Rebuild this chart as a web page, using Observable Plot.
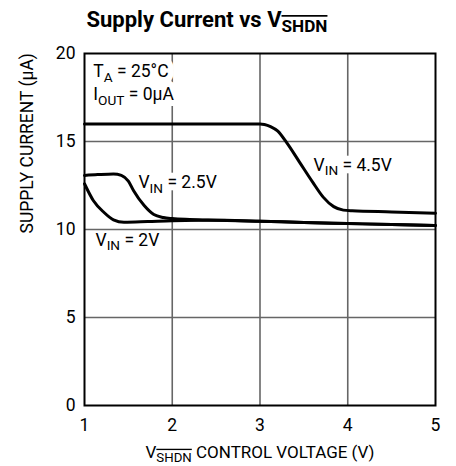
<!DOCTYPE html>
<html>
<head>
<meta charset="utf-8">
<script src="https://cdn.jsdelivr.net/npm/d3@7"></script>
<script src="https://cdn.jsdelivr.net/npm/@observablehq/plot@0.6"></script>
<style>
  html, body { margin: 0; padding: 0; background: white; }
  #chart { width: 456px; height: 466px; }
</style>
</head>
<body>
<div id="chart"></div>
<script>
// ---- data ----
const xTicks = [1, 2, 3, 4, 5];
const yTicks = [0, 5, 10, 15, 20];
const xGrid = [2, 3, 4];
const yGrid = [5, 10, 15];

const vin45X = [1, 2, 3, 3.05, 3.12, 3.2, 3.3, 3.45, 3.6, 3.72, 3.84, 3.95, 4.05, 4.5, 5];
const vin45Y = [16, 16, 16, 15.97, 15.85, 15.6, 14.96, 13.83, 12.69, 11.84, 11.3, 11.1, 11.06, 11.0, 10.93];

const vin25X = [1, 1.15, 1.33, 1.42, 1.5, 1.56, 1.68, 1.79, 1.9, 2.0, 2.2, 2.5, 3, 3.5, 4, 4.5, 5];
const vin25Y = [13.07, 13.12, 13.16, 13.08, 12.75, 12.2, 11.36, 10.85, 10.68, 10.62, 10.57, 10.53, 10.47, 10.4, 10.34, 10.28, 10.23];

const vin2X = [1, 1.1, 1.22, 1.33, 1.45, 1.72, 2.0, 2.3, 2.6, 3, 3.5, 4, 4.5, 5];
const vin2Y = [12.6, 11.65, 10.98, 10.55, 10.41, 10.45, 10.5, 10.52, 10.52, 10.47, 10.4, 10.34, 10.28, 10.23];

const titleText = "Supply Current vs V_{~SHDN}";
const xLabel = "V_{~SHDN} CONTROL VOLTAGE (V)";
const yLabel = "SUPPLY CURRENT (\u00B5A)";
const condLabels = ["T_{A} = 25\u00B0C", "I_{OUT} = 0\u00B5A"];
const seriesLabels = ["V_{IN} = 4.5V", "V_{IN} = 2.5V", "V_{IN} = 2V"];

// ---- chart ----
const FONT = "Roboto, 'Liberation Sans', sans-serif";
const GRID = "#666666";
const pts = (xs, ys) => xs.map((x, i) => [x, ys[i]]);
const txt = {fontSize: 17.5, textAnchor: "start", lineAnchor: "bottom"};
const haloOpt = {...txt, stroke: "white", strokeWidth: 12, fill: "white"};
const inkOpt = {...txt, fill: "black"};
const labelPos = [
  [condLabels[0], 1.10, 18.65],
  [condLabels[1], 1.10, 17.33],
  [seriesLabels[0], 3.61, 13.35],
  [seriesLabels[1], 1.615, 12.33],
  [seriesLabels[2], 1.125, 9.09]
];
const labelMarks = (opt) => labelPos.map(([t, x, y]) => Plot.text([t], {...opt, x: () => x, y: () => y}));

const chart = Plot.plot({
  width: 456,
  height: 466,
  marginTop: 53,
  marginBottom: 61,
  marginLeft: 84,
  marginRight: 21,
  style: {fontFamily: FONT, fontSize: "17px", background: "white", color: "black"},
  x: {domain: [1, 5]},
  y: {domain: [0, 20]},
  marks: [
    Plot.ruleX(xGrid, {stroke: GRID, strokeWidth: 1.6}),
    ...labelMarks(haloOpt),
    Plot.ruleY(yGrid, {stroke: GRID, strokeWidth: 1.6}),
    ...labelMarks(inkOpt),
    Plot.line(pts(vin45X, vin45Y), {stroke: "black", strokeWidth: 3, curve: "monotone-x"}),
    Plot.line(pts(vin25X, vin25Y), {stroke: "black", strokeWidth: 3, curve: "monotone-x"}),
    Plot.line(pts(vin2X, vin2Y), {stroke: "black", strokeWidth: 3, curve: "monotone-x"}),
    Plot.frame({stroke: "black", strokeWidth: 2}),
    Plot.axisX(xTicks, {tickSize: 0, tickPadding: 13, label: null, fontSize: 17.5}),
    Plot.axisY(yTicks, {tickSize: 0, tickPadding: 9, label: null, fontSize: 17.5}),
    Plot.text([xLabel], {frameAnchor: "bottom", dy: 52, lineAnchor: "bottom", fontSize: 17}),
    Plot.text([yLabel], {frameAnchor: "left", dx: -52, dy: 4, rotate: -90, lineAnchor: "bottom", fontSize: 17.5}),
    Plot.text([titleText], {frameAnchor: "top-left", dx: 2, dy: -27, lineAnchor: "bottom", textAnchor: "start", fontSize: 22, fontWeight: "bold"})
  ]
});

document.getElementById("chart").appendChild(chart);

// convert "_{...}" markup into subscript tspans ("~" = overline)
d3.select(chart).selectAll("text").each(function () {
  const t = this.textContent;
  if (!t.includes("_{")) return;
  const parts = t.split(/(_\{[^}]*\})/).filter(s => s.length);
  this.textContent = "";
  let shifted = false;
  for (const p of parts) {
    const ts = document.createElementNS("http://www.w3.org/2000/svg", "tspan");
    if (p.startsWith("_{")) {
      let s = p.slice(2, -1);
      const over = s.startsWith("~");
      if (over) s = s.slice(1);
      ts.textContent = s;
      ts.setAttribute("font-size", "78%");
      ts.setAttribute("dy", "0.32em");
      if (over) ts.setAttribute("style", "text-decoration: overline");
      shifted = true;
    } else {
      ts.textContent = p;
      if (shifted) { ts.setAttribute("dy", "-0.25em"); shifted = false; }
    }
    this.appendChild(ts);
  }
});
</script>
</body>
</html>
